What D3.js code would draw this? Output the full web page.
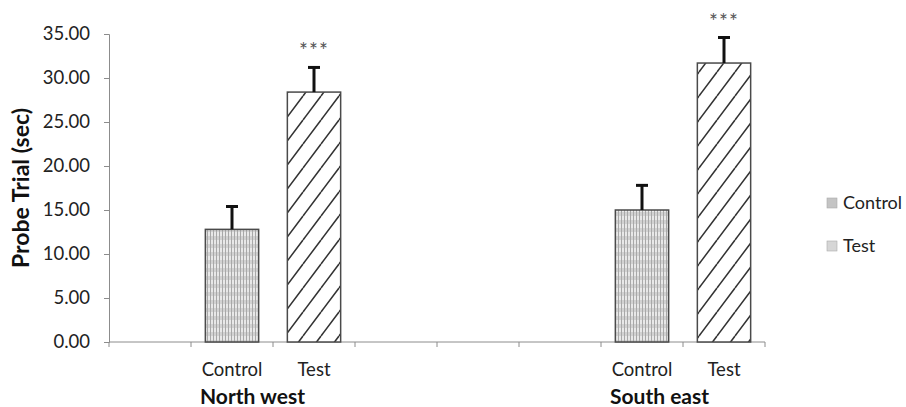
<!DOCTYPE html>
<html lang="en">
<head>
    <meta charset="UTF-8">
    <title>Probe Trial</title>
    <script src="https://d3js.org/d3.v7.min.js"></script>
    <style>
        body { margin: 0; background: #fff; font-family: Lato, "Open Sans", sans-serif; }
        svg { display: block; }
    </style>
</head>
<body>
    <svg width="906" height="407"></svg>

    <script>
        // Axis slots (Excel chart with empty spacer categories)
        const slots = ["s0", "North west|Control", "North west|Test", "s1", "s2", "s3", "South east|Control", "South east|Test"];
        const groups = ["North west", "South east"];
        const conditions = ["Control", "Test"];
        const means = {
            "North west": [12.8, 28.4],
            "South east": [15.0, 31.7]
        };
        const errors = {
            "North west": [2.6, 2.8],
            "South east": [2.8, 2.9]
        };
        const marks = {
            "North west": ["", "***"],
            "South east": ["", "***"]
        };
        const yTicks = [0, 5, 10, 15, 20, 25, 30, 35];

        const rows = [];
        groups.forEach(g => conditions.forEach((c, i) => {
            rows.push({ group: g, cond: c, key: g + "|" + c, value: means[g][i], err: errors[g][i], mark: marks[g][i] });
        }));

        const svg = d3.select("svg");
        const margin = { left: 109, right: 141, top: 34, bottom: 65 };
        const width = 906, height = 407;

        const x = d3.scaleBand().domain(slots).range([margin.left, width - margin.right]).padding(0);
        const y = d3.scaleLinear().domain([0, 35]).range([height - margin.bottom, margin.top]);

        // Patterns
        const defs = svg.append("defs");
        const pc = defs.append("pattern").attr("id", "pControl")
            .attr("patternUnits", "userSpaceOnUse").attr("width", 3).attr("height", 8);
        pc.append("rect").attr("width", 3).attr("height", 8).attr("fill", "#e8e8e8");
        pc.append("rect").attr("y", 4).attr("width", 3).attr("height", 4).attr("fill", "#d2d2d2");
        pc.append("rect").attr("x", 0).attr("width", 1).attr("height", 8).attr("fill", "#a8a8a8");

        const pt = defs.append("pattern").attr("id", "pTest")
            .attr("patternUnits", "userSpaceOnUse").attr("width", 18).attr("height", 24);
        pt.append("rect").attr("width", 18).attr("height", 24).attr("fill", "#fff");
        pt.append("path").attr("d", "M-3,24 L15,0 M15,24 L33,0 M-21,24 L-3,0")
            .attr("stroke", "#333").attr("stroke-width", 1.6).attr("fill", "none");

        // Y axis
        const yAxis = svg.append("g")
            .attr("transform", `translate(${margin.left},0)`)
            .call(d3.axisLeft(y).tickValues(yTicks).tickFormat(d3.format(".2f")).tickSize(5).tickPadding(14));
        yAxis.select(".domain").attr("stroke", "#8c8c8c");
        yAxis.selectAll(".tick line").attr("stroke", "#8c8c8c");
        yAxis.selectAll(".tick text").style("font-size", "18.5px").style("font-family", "Lato, sans-serif").attr("fill", "#222");

        // X axis with ticks at slot boundaries
        const xBase = y(0);
        svg.append("line")
            .attr("x1", x.range()[0]).attr("x2", x.range()[1])
            .attr("y1", xBase).attr("y2", xBase)
            .attr("stroke", "#8c8c8c");
        const bounds = slots.map(s => x(s)).concat([x.range()[1]]);
        svg.append("g").selectAll("line").data(bounds).enter().append("line")
            .attr("x1", d => d).attr("x2", d => d)
            .attr("y1", xBase).attr("y2", xBase + 5)
            .attr("stroke", "#8c8c8c");

        // Bars
        const bw = x.bandwidth() * 0.65;
        const cx = d => x(d.key) + x.bandwidth() / 2;
        svg.append("g").selectAll("rect").data(rows).enter().append("rect")
            .attr("x", d => cx(d) - bw / 2)
            .attr("y", d => y(d.value))
            .attr("width", bw)
            .attr("height", d => y(0) - y(d.value))
            .attr("fill", d => d.cond === "Control" ? "url(#pControl)" : "url(#pTest)")
            .attr("stroke", "#4a4a4a").attr("stroke-width", 1.5);

        // Error bars (upper only)
        const eb = svg.append("g").attr("stroke", "#111").attr("stroke-width", 3);
        eb.selectAll("line.v").data(rows).enter().append("line")
            .attr("x1", cx).attr("x2", cx)
            .attr("y1", d => y(d.value)).attr("y2", d => y(d.value + d.err));
        eb.selectAll("line.h").data(rows).enter().append("line")
            .attr("x1", d => cx(d) - 6).attr("x2", d => cx(d) + 6)
            .attr("y1", d => y(d.value + d.err)).attr("y2", d => y(d.value + d.err));

        // Significance marks
        svg.append("g").selectAll("text").data(rows.filter(d => d.mark)).enter().append("text")
            .attr("x", cx)
            .attr("y", d => y(d.value + d.err) - 9)
            .attr("text-anchor", "middle")
            .style("font-size", "21px").style("fill", "#555").style("letter-spacing", "1px")
            .text(d => d.mark);

        // Category labels
        svg.append("g").selectAll("text").data(rows).enter().append("text")
            .attr("x", cx)
            .attr("y", xBase + 34)
            .attr("text-anchor", "middle")
            .style("font-size", "18.5px").style("fill", "#222")
            .text(d => d.cond);

        // Group labels
        svg.append("g").selectAll("text").data(groups).enter().append("text")
            .attr("x", g => x(g + "|Control") + x.bandwidth() / 2 - 32)
            .attr("y", xBase + 62)
            .attr("text-anchor", "start")
            .style("font-size", "21px").style("font-weight", "bold").style("fill", "#111")
            .text(g => g);

        // Y title
        svg.append("text")
            .attr("transform", `translate(29,${(y(0) + y(35)) / 2}) rotate(-90)`)
            .attr("text-anchor", "middle")
            .style("font-size", "23px").style("font-weight", "bold").style("fill", "#111")
            .text("Probe Trial (sec)");

        // Legend
        const legend = svg.append("g").attr("transform", "translate(827,198)");
        legend.selectAll("g").data(conditions).enter().append("g")
            .attr("transform", (d, i) => `translate(0,${i * 43})`)
            .each(function(d) {
                const gEl = d3.select(this);
                gEl.append("rect").attr("x", 0).attr("y", 0).attr("width", 10).attr("height", 10)
                    .attr("fill", d === "Control" ? "#c4c4c4" : "#d6d6d6").attr("stroke", "#aaa").attr("stroke-width", 0.6);
                gEl.append("text").attr("x", 16).attr("y", 11)
                    .style("font-size", "18px").style("fill", "#222").text(d);
            });
    </script>
</body>
</html>
